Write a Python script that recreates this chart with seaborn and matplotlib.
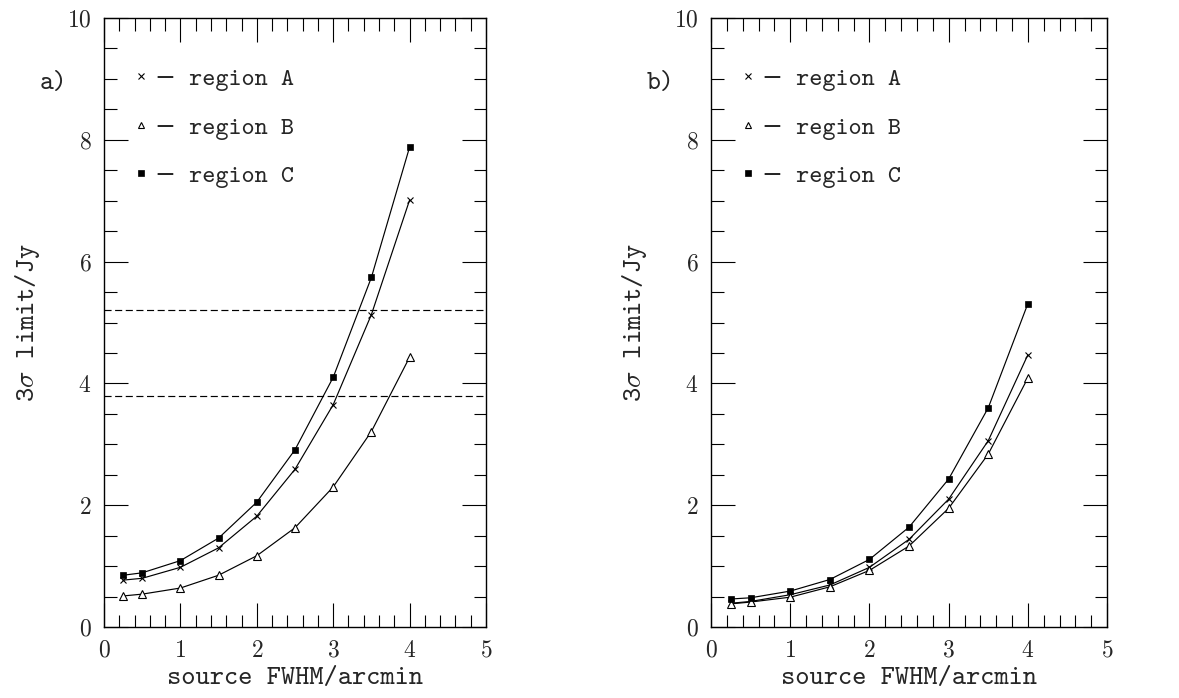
import matplotlib
matplotlib.use("Agg")
import matplotlib.pyplot as plt
from matplotlib.lines import Line2D
from matplotlib.ticker import MultipleLocator
import seaborn as sns
import pandas as pd

# ---- data ----
fwhm = [0.25, 0.5, 1.0, 1.5, 2.0, 2.5, 3.0, 3.5, 4.0]

a_region_A = [0.77, 0.80, 0.98, 1.30, 1.82, 2.59, 3.65, 5.13, 7.01]
a_region_B = [0.51, 0.54, 0.64, 0.85, 1.17, 1.63, 2.30, 3.21, 4.43]
a_region_C = [0.85, 0.89, 1.09, 1.46, 2.05, 2.91, 4.10, 5.74, 7.88]
a_limits = [5.2, 3.8]

b_region_A = [0.39, 0.42, 0.53, 0.69, 0.98, 1.44, 2.10, 3.06, 4.47]
b_region_B = [0.38, 0.41, 0.49, 0.66, 0.93, 1.33, 1.95, 2.84, 4.09]
b_region_C = [0.46, 0.48, 0.59, 0.78, 1.11, 1.64, 2.43, 3.60, 5.31]

region_names = ["region A", "region B", "region C"]
panel_labels = ["a)", "b)"]
x_label = "source FWHM/arcmin"
y_label = r"3$\sigma$ limit/Jy"

# ---- style ----
sns.set_theme(style="ticks")
plt.rcParams["font.family"] = ["cmr10", "DejaVu Serif"]
plt.rcParams["mathtext.fontset"] = "cm"
plt.rcParams["axes.formatter.use_mathtext"] = True
TXT = ["cmtt10", "DejaVu Serif"]

markers = {
    "region A": dict(marker="x", markersize=5, markeredgewidth=0.8,
                     markerfacecolor="black", markeredgecolor="black"),
    "region B": dict(marker="^", markersize=5.5, markeredgewidth=0.8,
                     markerfacecolor="white", markeredgecolor="black"),
    "region C": dict(marker="s", markersize=5, markeredgewidth=0.5,
                     markerfacecolor="black", markeredgecolor="black"),
}

fig = plt.figure(figsize=(11.79, 6.98), dpi=100)
ax_a = fig.add_axes([0.0882, 0.1017, 0.3240, 0.8725])
ax_b = fig.add_axes([0.6031, 0.1017, 0.3359, 0.8725])

panels = [
    (ax_a, [a_region_A, a_region_B, a_region_C], a_limits, panel_labels[0]),
    (ax_b, [b_region_A, b_region_B, b_region_C], [], panel_labels[1]),
]

for ax, series, limits, plabel in panels:
    for name, vals in zip(region_names, series):
        df = pd.DataFrame({"fwhm": fwhm, "limit": vals})
        sns.lineplot(data=df, x="fwhm", y="limit", ax=ax, color="black",
                     linewidth=0.85, **markers[name])
    for lim in limits:
        ax.axhline(lim, color="black", linewidth=0.85, linestyle=(0, (6, 3)))
    ax.set_xlim(0, 5)
    ax.set_ylim(0, 10)
    ax.xaxis.set_major_locator(MultipleLocator(1))
    ax.xaxis.set_minor_locator(MultipleLocator(0.2))
    ax.yaxis.set_major_locator(MultipleLocator(2))
    ax.yaxis.set_minor_locator(MultipleLocator(0.5))
    ax.tick_params(which="both", direction="in", top=True, right=True,
                   color="black", width=0.8)
    ax.tick_params(which="major", length=17, labelsize=17, pad=9)
    ax.tick_params(which="minor", length=9)
    for sp in ax.spines.values():
        sp.set_color("black")
        sp.set_linewidth(1.0)
    ax.set_xlabel(x_label, fontsize=19.5, family=TXT, labelpad=4)
    ax.set_ylabel(y_label, fontsize=19.5, family=TXT, labelpad=18)

    ax_w_px = ax.get_position().width * fig.get_figwidth() * fig.dpi
    handles = [Line2D([], [], linestyle="none", color="black",
                      **{**markers[n], "markersize": markers[n]["markersize"] * 0.8})
               for n in region_names]
    ax.legend(handles, ["\u2212 " + n for n in region_names], loc="upper left",
              bbox_to_anchor=(17 / ax_w_px, 0.935), frameon=False,
              prop={"family": TXT, "size": 18},
              handlelength=0.8, handletextpad=0.16, labelspacing=1.0,
              borderaxespad=0)
    ax.text(-64 / ax_w_px, 0.892, plabel, transform=ax.transAxes, fontsize=19,
            family=TXT, ha="left", va="center")

fig.savefig("out.png", dpi=100)
